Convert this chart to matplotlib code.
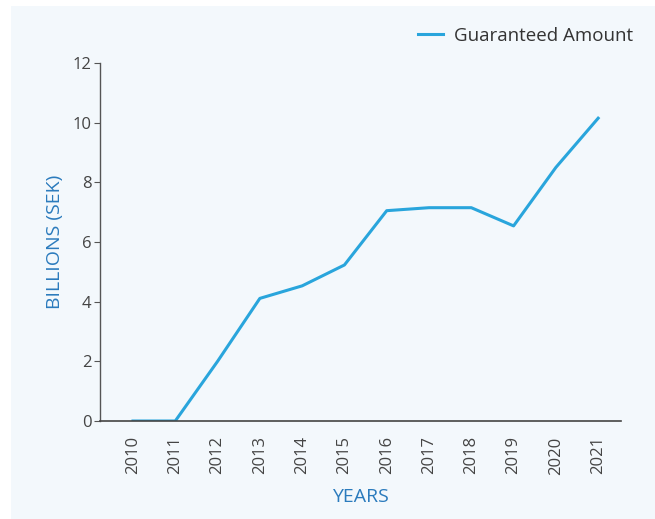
import matplotlib.pyplot as plt
from matplotlib.patches import Rectangle

years = [2010, 2011, 2012, 2013, 2014, 2015, 2016, 2017, 2018, 2019, 2020, 2021]
guaranteed = [0.0, 0.0, 2.0, 4.11, 4.53, 5.23, 7.05, 7.15, 7.15, 6.54, 8.5, 10.15]
yticks = [0, 2, 4, 6, 8, 10, 12]

plt.rcParams['font.family'] = ['Open Sans', 'DejaVu Sans']

fig = plt.figure(figsize=(6.55, 5.19), dpi=100, facecolor='white')
# light panel behind the chart
fig.patches.append(Rectangle((11 / 655, 0), 1 - 11 / 655, 1 - 6 / 519,
                             transform=fig.transFigure, facecolor='#f3f8fc',
                             edgecolor='none', zorder=-1))

ax = fig.add_axes([100 / 655, 1 - 421 / 519, 521 / 655, 358 / 519])
ax.set_facecolor('none')

ax.plot(years, guaranteed, color='#29a5dc', linewidth=2.2, label='Guaranteed Amount')

ax.set_xlim(2009.22, 2021.54)
ax.set_ylim(0, 12)
ax.set_xticks(years)
ax.set_xticklabels([str(y) for y in years], rotation=90)
ax.set_yticks(yticks)

for side in ['top', 'right']:
    ax.spines[side].set_visible(False)
ax.spines['left'].set_color('#555555')
ax.spines['bottom'].set_color('#444444')
ax.spines['left'].set_linewidth(1.0)
ax.spines['bottom'].set_linewidth(1.2)

ax.tick_params(axis='y', length=4, color='#555555', labelcolor='#444444',
               labelsize=12, pad=2)
ax.tick_params(axis='x', length=0, labelcolor='#444444', labelsize=12, pad=11)

ax.set_xlabel('YEARS', color='#2b7bbd', fontsize=14, labelpad=10)
ax.set_ylabel('BILLIONS (SEK)', color='#2b7bbd', fontsize=14, labelpad=6)

fig.legend(loc='upper right', bbox_to_anchor=(650 / 655, 1 - 10 / 519),
           frameon=False, fontsize=13.5, handlelength=1.3, handletextpad=0.6,
           labelcolor='#333333')

fig.savefig('out.png', dpi=100, facecolor='white')
